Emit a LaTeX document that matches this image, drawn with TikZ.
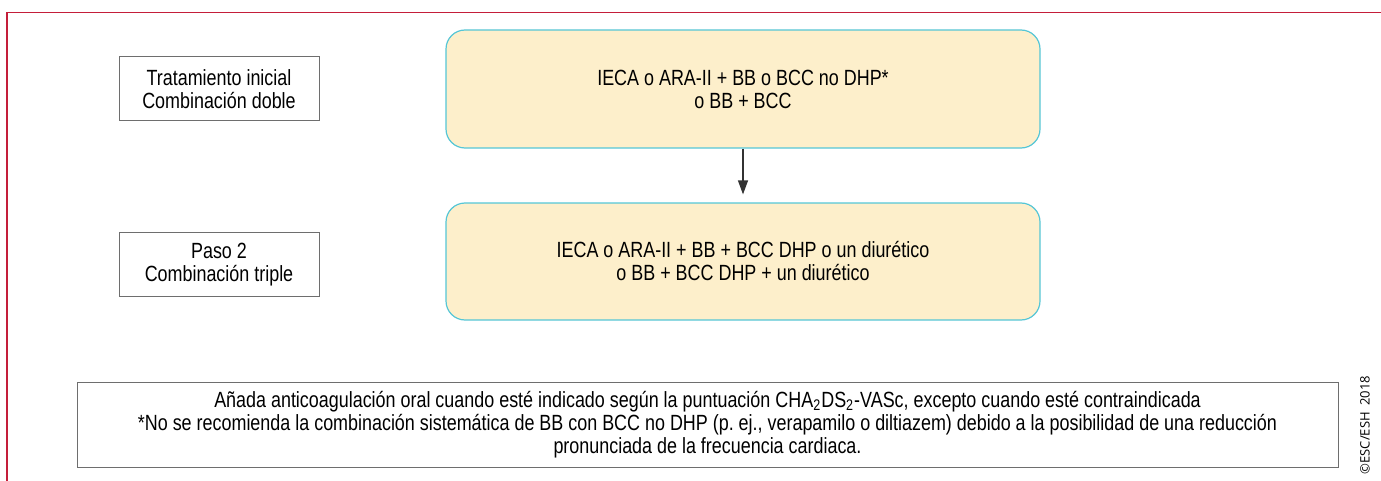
\documentclass[tikz,border=0pt]{standalone}
\usepackage{fontspec}
\setmainfont{Liberation Sans}[FakeStretch=0.815]
\newfontfamily\copyfont{Open Sans}
\usetikzlibrary{arrows.meta}
\definecolor{framered}{HTML}{C41E3A}
\definecolor{yfill}{HTML}{FDEFCB}
\definecolor{cyanline}{HTML}{55C6D6}
\definecolor{grayline}{HTML}{6E6E6E}
\definecolor{arrowgray}{HTML}{333333}
\tikzset{
  labelbox/.style={draw=grayline, line width=0.5pt, fill=white, minimum width=100pt, minimum height=32pt, align=center, inner sep=0pt},
  drugbox/.style={draw=cyanline, line width=0.6pt, fill=yfill, rounded corners=9.5pt, minimum width=297pt, align=center, inner sep=0pt},
  notebox/.style={draw=grayline, line width=0.5pt, fill=white, minimum width=630.5pt, minimum height=42.5pt, align=center, inner sep=0pt},
  flow/.style={draw=arrowgray, line width=0.6pt, -{Triangle[length=7pt,width=5pt]}}
}
\begin{document}
\begin{tikzpicture}[x=0.5pt,y=-0.5pt, font=\fontsize{11}{11.5}\selectfont]
\useasboundingbox (0,0) rectangle (1381,481);
\coordinate (fbl) at (7,481);
\coordinate (ftl) at (7,12.7);
\coordinate (ftr) at (1381,12.7);
\draw[framered, line width=0.8pt] (fbl) -- (ftl) -- (ftr);

\node[labelbox] (lab1) at (219,89) {Tratamiento inicial\\Combinación doble};
\node[labelbox] (lab2) at (219,264.5) {Paso 2\\Combinación triple};

\node[drugbox, minimum height=59pt] (d1) at (743,89) {IECA o ARA-II + BB o BCC no DHP*\\o BB + BCC};
\node[drugbox, minimum height=58.5pt] (d2) at (743,261.5) {IECA o ARA-II + BB + BCC DHP o un diurético\\o BB + BCC DHP + un diurético};

\draw[flow] (d1.south) -- ([yshift=4pt]d2.north);

\node[notebox] (note) at (707.5,424.5) {Añada anticoagulación oral cuando esté indicado según la puntuación CHA\textsubscript{2}DS\textsubscript{2}-VASc, excepto cuando esté contraindicada\\*No se recomienda la combinación sistemática de BB con BCC no DHP (p.\ ej., verapamilo o diltiazem) debido a la posibilidad de una reducción\\pronunciada de la frecuencia cardiaca.};

\node[rotate=90, font=\copyfont\fontsize{6.5}{7}\selectfont] (copy) at (1365,425) {©ESC/ESH\ \ 2018};
\end{tikzpicture}
\end{document}
